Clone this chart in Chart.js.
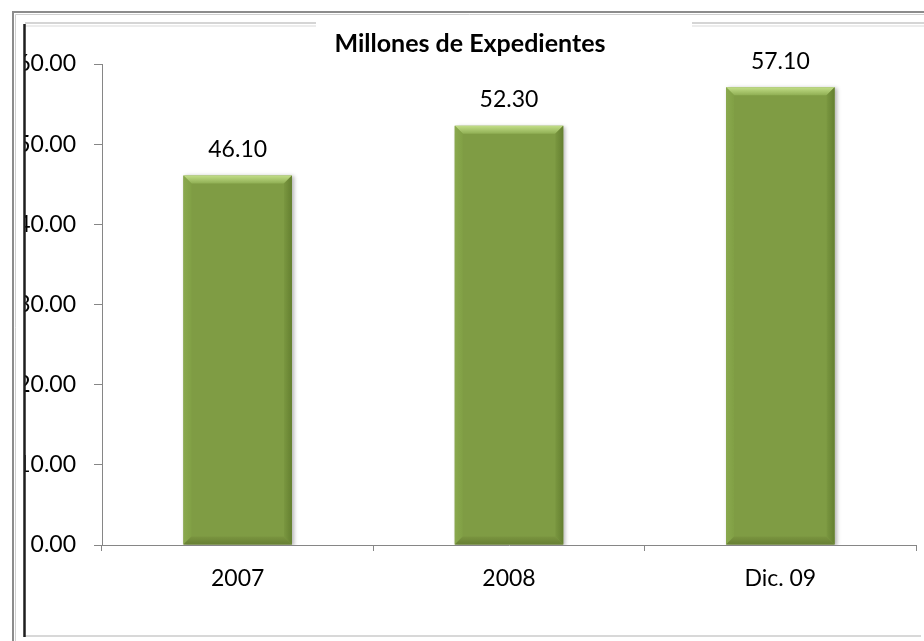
<!DOCTYPE html>
<html>
<head>
<meta charset="utf-8">
<script src="https://cdn.jsdelivr.net/npm/chart.js@4/dist/chart.umd.min.js"></script>
<style>
  html, body { margin: 0; padding: 0; background: #fff; }
  canvas { display: block; }
</style>
</head>
<body>
<canvas id="chart" width="924" height="641"></canvas>
<script>
const categories = ['2007', '2008', 'Dic. 09']
const expedientes = [46.1, 52.3, 57.1]
const yTicks = { min: 0, max: 60, step: 10 }
const chartTitle = 'Millones de Expedientes'

const axisGray = '#868686'
const font = 'Lato, "Open Sans", sans-serif'

// Excel-style frame around the chart, drawn over everything
const framePlugin = {
  id: 'frame',
  afterDraw(chart) {
    const ctx = chart.ctx
    ctx.save()
    // outer gray border
    ctx.strokeStyle = '#8c8c8c'
    ctx.lineWidth = 2
    ctx.beginPath()
    ctx.moveTo(13, 641)
    ctx.lineTo(13, 12)
    ctx.lineTo(924, 12)
    ctx.stroke()
    ctx.strokeStyle = '#d0d0d0'
    ctx.lineWidth = 1
    ctx.beginPath()
    ctx.moveTo(15.5, 641)
    ctx.lineTo(15.5, 14.5)
    ctx.lineTo(924, 14.5)
    ctx.stroke()

    // inner top line, broken behind the title
    ctx.strokeStyle = '#c8c8c8'
    ctx.lineWidth = 1.5
    ctx.beginPath()
    ctx.moveTo(25, 23)
    ctx.lineTo(316, 23)
    ctx.moveTo(692, 23)
    ctx.lineTo(924, 23)
    ctx.stroke()
    ctx.strokeStyle = '#e6e6e6'
    ctx.beginPath()
    ctx.moveTo(25, 26)
    ctx.lineTo(316, 26)
    ctx.moveTo(692, 26)
    ctx.lineTo(924, 26)
    ctx.stroke()

    // inner bottom line
    ctx.strokeStyle = '#d8d8d8'
    ctx.lineWidth = 2
    ctx.beginPath()
    ctx.moveTo(25, 636)
    ctx.lineTo(921, 636)
    ctx.stroke()

    // dark left edge
    ctx.strokeStyle = '#1e1e1e'
    ctx.lineWidth = 2.5
    ctx.beginPath()
    ctx.moveTo(24.5, 24)
    ctx.lineTo(24.5, 637)
    ctx.stroke()
    ctx.restore()
  }
}

// soft shadow under the bars
const shadowPlugin = {
  id: 'barShadow',
  beforeDatasetsDraw(chart) {
    const ctx = chart.ctx
    ctx.save()
    ctx.shadowColor = 'rgba(0, 0, 0, 0.3)'
    ctx.shadowBlur = 4
    ctx.shadowOffsetX = 2
    ctx.shadowOffsetY = 1
  },
  afterDatasetsDraw(chart) {
    chart.ctx.restore()
  }
}

// beveled edges + value labels on each bar
const bevelPlugin = {
  id: 'bevel',
  afterDatasetsDraw(chart) {
    const ctx = chart.ctx
    const meta = chart.getDatasetMeta(0)
    const values = chart.data.datasets[0].data
    const b = 8

    meta.data.forEach((bar, i) => {
      const { x, y, base, width } = bar.getProps(['x', 'y', 'base', 'width'], true)
      const L = x - width / 2
      const R = x + width / 2
      const T = y
      const B = base

      const poly = (pts, fill) => {
        ctx.beginPath()
        ctx.moveTo(pts[0][0], pts[0][1])
        pts.slice(1).forEach(p => ctx.lineTo(p[0], p[1]))
        ctx.closePath()
        ctx.fillStyle = fill
        ctx.fill()
      }

      ctx.save()
      const topGrad = ctx.createLinearGradient(0, T, 0, T + b)
      topGrad.addColorStop(0, '#c2de88')
      topGrad.addColorStop(1, '#90af54')
      poly([[L, T], [R, T], [R - b, T + b], [L + b, T + b]], topGrad)

      const leftGrad = ctx.createLinearGradient(L, 0, L + b, 0)
      leftGrad.addColorStop(0, '#8aa94e')
      leftGrad.addColorStop(1, '#81a045')
      poly([[L, T], [L + b, T + b], [L + b, B - b], [L, B]], leftGrad)

      const rightGrad = ctx.createLinearGradient(R - b, 0, R, 0)
      rightGrad.addColorStop(0, '#7a9740')
      rightGrad.addColorStop(1, '#647f30')
      poly([[R, T], [R, B], [R - b, B - b], [R - b, T + b]], rightGrad)

      const botGrad = ctx.createLinearGradient(0, B - b, 0, B)
      botGrad.addColorStop(0, '#7a9540')
      botGrad.addColorStop(1, '#677f33')
      poly([[L, B], [R, B], [R - b, B - b], [L + b, B - b]], botGrad)

      ctx.fillStyle = '#000'
      ctx.font = '23px ' + font
      ctx.textAlign = 'center'
      ctx.textBaseline = 'middle'
      ctx.fillText(values[i].toFixed(2), x, T - 26)
      ctx.restore()
    })
  }
}

new Chart(document.getElementById('chart'), {
  type: 'bar',
  data: {
    labels: categories,
    datasets: [{
      data: expedientes,
      backgroundColor: '#7f9c44',
      borderWidth: 0,
      categoryPercentage: 1,
      barPercentage: 0.4
    }]
  },
  options: {
    responsive: false,
    devicePixelRatio: 1,
    animation: false,
    layout: { padding: { left: 24, right: 8, top: 0, bottom: 0 } },
    plugins: {
      legend: { display: false },
      tooltip: { enabled: false },
      title: {
        display: true,
        text: chartTitle,
        color: '#000',
        font: { family: font, size: 25, weight: 'bold', lineHeight: 1.2 },
        padding: { top: 29, bottom: 5 }
      }
    },
    scales: {
      x: {
        afterFit(scale) { scale.height = 96 },
        grid: {
          offset: true,
          drawOnChartArea: false,
          tickLength: 6,
          color: axisGray
        },
        border: { color: axisGray, width: 1 },
        ticks: {
          color: '#000',
          padding: 14,
          font: { family: font, size: 23 }
        }
      },
      y: {
        min: yTicks.min,
        max: yTicks.max,
        afterFit(scale) { scale.width = 78 },
        grid: {
          drawOnChartArea: false,
          tickLength: 8,
          color: axisGray
        },
        border: { color: axisGray, width: 1 },
        ticks: {
          stepSize: yTicks.step,
          color: '#000',
          padding: 18,
          font: { family: font, size: 23 },
          callback: v => v.toFixed(2)
        }
      }
    }
  },
  plugins: [shadowPlugin, bevelPlugin, framePlugin]
})
</script>
</body>
</html>
